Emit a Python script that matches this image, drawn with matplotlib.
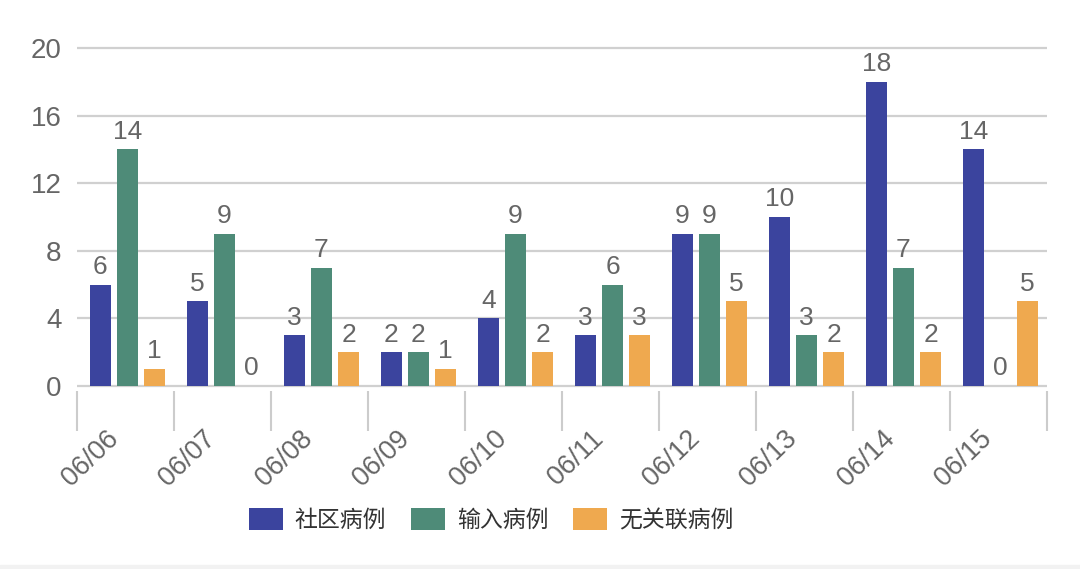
import matplotlib
matplotlib.use('Agg')
import matplotlib.pyplot as plt
import numpy as np
from matplotlib.transforms import ScaledTranslation
from matplotlib.patches import Rectangle

plt.rcParams['font.family'] = ['Liberation Sans', 'Noto Sans CJK SC', 'DejaVu Sans']

dates = ['06/06', '06/07', '06/08', '06/09', '06/10', '06/11', '06/12', '06/13', '06/14', '06/15']
community = [6, 5, 3, 2, 4, 3, 9, 10, 18, 14]
imported = [14, 9, 7, 2, 9, 6, 9, 3, 7, 0]
unlinked = [1, 0, 2, 1, 2, 3, 5, 2, 2, 5]
series_names = ['社区病例', '输入病例', '无关联病例']
colors = ['#3b449e', '#4e8b78', '#efa94f']
gray = '#666666'

fig = plt.figure(figsize=(10.8, 5.69), dpi=100)
ax = fig.add_axes([77 / 1080, 1 - 391 / 569, 970 / 1080, 348 / 569])

x = np.arange(len(dates))
width = 0.215
offsets = [-0.26, 0.02, 0.3]
for vals, off, c, name in zip([community, imported, unlinked], offsets, colors, series_names):
    bars = ax.bar(x + off, vals, width=width, color=c, label=name, zorder=3)
    for b, v in zip(bars, vals):
        ax.annotate(str(v), (b.get_x() + b.get_width() / 2, v), xytext=(0, 4),
                    textcoords='offset points', ha='center', va='bottom',
                    fontsize=19, color=gray)

ax.set_xlim(-0.5, 9.5)
ax.set_ylim(-0.3, 20.3)
ax.set_yticks([0, 4, 8, 12, 16, 20])
ax.yaxis.grid(True, color='#d0d0d0', linewidth=1.6, zorder=0)
ax.set_axisbelow(True)
for s in ax.spines.values():
    s.set_visible(False)
ax.tick_params(axis='y', length=0, pad=11, labelsize=20, labelcolor=gray)

ax.set_xticks(x)
ax.set_xticklabels(dates, rotation=44, ha='right', va='top', rotation_mode='anchor')
ax.set_xticks(np.arange(-0.5, 10, 1), minor=True)
ax.tick_params(axis='x', which='major', length=0, pad=25, labelsize=19.5, labelcolor=gray)
ax.tick_params(axis='x', which='minor', length=29, width=1.5, color='#cccccc', direction='out')
for lab in ax.get_xticklabels():
    lab.set_transform(lab.get_transform() + ScaledTranslation(-20 / 100, 0, fig.dpi_scale_trans))

fig.legend(loc='center', bbox_to_anchor=(491 / 1080, 1 - 520 / 569), ncol=3, frameon=False,
           fontsize=16.5, handlelength=1.48, handleheight=1.13, handletextpad=0.52,
           columnspacing=1.09, labelcolor='#333333')

fig.patches.append(Rectangle((0, 0), 1, 4 / 569, transform=fig.transFigure,
                             color='#f2f2f2', zorder=0))

fig.savefig('out.png', dpi=100)
